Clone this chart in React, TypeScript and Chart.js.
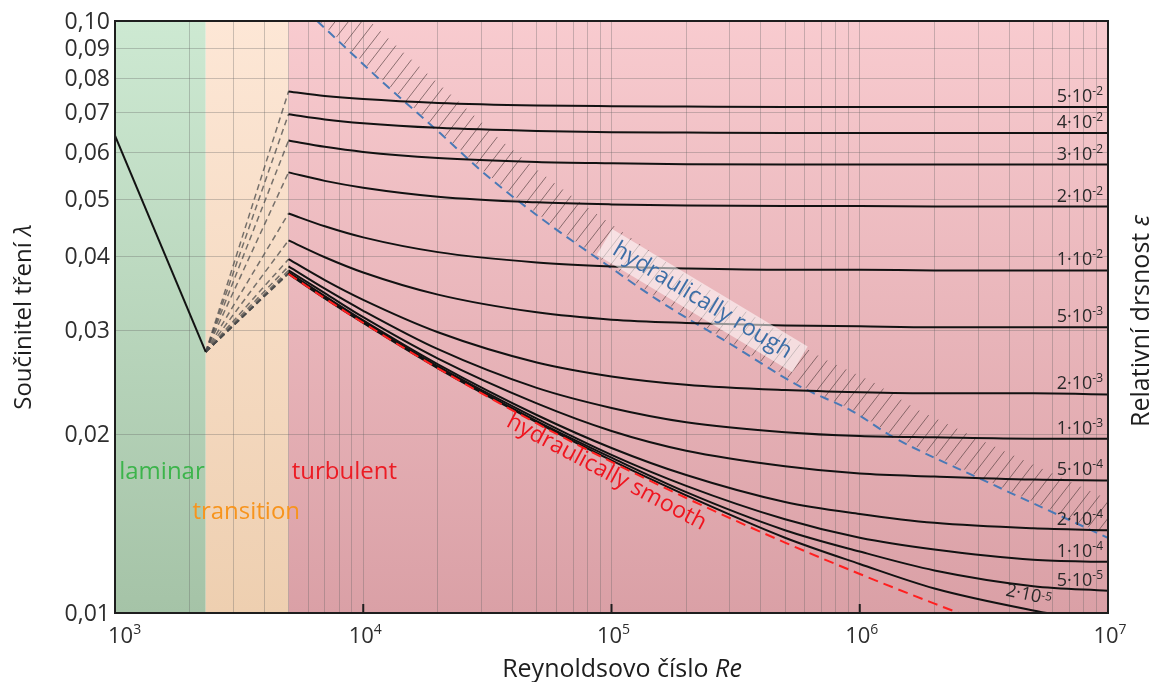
import React, { useEffect, useRef } from "react";
import { Chart, registerables } from "chart.js";

Chart.register(...registerables);

const FONT = '"Open Sans", "Noto Sans", "DejaVu Sans", sans-serif';

const RE_TURB = [5000, 7000, 10000, 20000, 50000, 100000, 200000, 500000, 1000000, 2000000, 5000000, 10000000];

// friction factor lambda for each relative roughness
const LAMBDA_5E_2 = [0.0760, 0.0747, 0.0738, 0.0727, 0.0720, 0.0718, 0.0717, 0.0716, 0.0716, 0.0716, 0.0716, 0.0716];
const LAMBDA_4E_2 = [0.0696, 0.0682, 0.0672, 0.0660, 0.0652, 0.0649, 0.0648, 0.0647, 0.0647, 0.0647, 0.0647, 0.0647];
const LAMBDA_3E_2 = [0.0628, 0.0613, 0.0601, 0.0587, 0.0578, 0.0575, 0.0573, 0.0572, 0.0572, 0.0572, 0.0572, 0.0572];
const LAMBDA_2E_2 = [0.0555, 0.0537, 0.0523, 0.0505, 0.0494, 0.0490, 0.0488, 0.0487, 0.0487, 0.0486, 0.0486, 0.0486];
const LAMBDA_1E_2 = [0.0473, 0.0450, 0.0431, 0.0407, 0.0391, 0.0385, 0.0382, 0.0380, 0.0380, 0.0379, 0.0379, 0.0379];
const LAMBDA_5E_3 = [0.0426, 0.0399, 0.0376, 0.0345, 0.0322, 0.0313, 0.0309, 0.0306, 0.0305, 0.0304, 0.0304, 0.0304];
const LAMBDA_2E_3 = [0.0396, 0.0365, 0.0338, 0.0298, 0.0265, 0.0251, 0.0243, 0.0238, 0.0236, 0.0235, 0.0235, 0.0234];
const LAMBDA_1E_3 = [0.0385, 0.0353, 0.0324, 0.0279, 0.0240, 0.0222, 0.0210, 0.0202, 0.0199, 0.0198, 0.0197, 0.0197];
const LAMBDA_5E_4 = [0.0379, 0.0347, 0.0316, 0.0269, 0.0226, 0.0203, 0.0188, 0.0177, 0.0172, 0.0170, 0.0168, 0.01675];
const LAMBDA_2E_4 = [0.0376, 0.0343, 0.0312, 0.0263, 0.0216, 0.0190, 0.0171, 0.0154, 0.0147, 0.0142, 0.0139, 0.0138];
const LAMBDA_1E_4 = [0.0375, 0.0341, 0.0310, 0.0261, 0.0213, 0.0185, 0.0164, 0.0144, 0.0134, 0.0128, 0.0123, 0.0122];
const LAMBDA_5E_5 = [0.0375, 0.0341, 0.0310, 0.0260, 0.0211, 0.0183, 0.0160, 0.0138, 0.0127, 0.0118, 0.0111, 0.0109];
const LAMBDA_2E_5 = [0.0374, 0.0340, 0.0309, 0.0259, 0.0210, 0.0181, 0.0158, 0.0134, 0.0121, 0.0110, 0.0101, 0.0096];

const ROUGHNESS_MANTISSA = ["5", "4", "3", "2", "1", "5", "2", "1", "5", "2", "1", "5", "2"];
const ROUGHNESS_EXPONENT = ["-2", "-2", "-2", "-2", "-2", "-3", "-3", "-3", "-4", "-4", "-4", "-5", "-5"];
const CURVE_VALUES = [
  LAMBDA_5E_2, LAMBDA_4E_2, LAMBDA_3E_2, LAMBDA_2E_2, LAMBDA_1E_2, LAMBDA_5E_3, LAMBDA_2E_3,
  LAMBDA_1E_3, LAMBDA_5E_4, LAMBDA_2E_4, LAMBDA_1E_4, LAMBDA_5E_5, LAMBDA_2E_5,
];

// hydraulically smooth pipe (red dashed)
const RE_SMOOTH = [5000, 7000, 10000, 20000, 50000, 100000, 200000, 500000, 1000000, 2000000, 3000000];
const LAMBDA_SMOOTH = [0.0374, 0.0340, 0.0309, 0.0259, 0.0209, 0.0180, 0.01564, 0.01315, 0.01164, 0.01037, 0.00972];

// laminar flow
const RE_LAMINAR = [1000, 2320];
const LAMBDA_LAMINAR = [0.064, 0.0276];

// boundary of the hydraulically rough region (blue dashed)
const RE_ROUGH = [6524, 11710, 20440, 29630, 40250, 58360, 90280, 153300, 300000, 578100, 919800, 1371000, 3162000, 10090000];
const LAMBDA_ROUGH = [0.1, 0.0795, 0.0646, 0.0560, 0.0504, 0.0448, 0.0394, 0.0338, 0.0285, 0.0241, 0.0220, 0.0198, 0.01675, 0.01337];

// flow regimes
const ZONE_BOUNDS = [1000, 2320, 5000, 10000000];
const ZONE_NAMES = ["laminar", "transition", "turbulent"];

// axes
const X_TICKS = [1000, 10000, 100000, 1000000, 10000000];
const X_TICK_EXP = ["3", "4", "5", "6", "7"];
const Y_TICKS = [0.01, 0.02, 0.03, 0.04, 0.05, 0.06, 0.07, 0.08, 0.09, 0.1];
const Y_TICK_LABELS = ["0,01", "0,02", "0,03", "0,04", "0,05", "0,06", "0,07", "0,08", "0,09", "0,10"];
const GRID_MULTIPLIERS = [1, 2, 3, 4, 5, 6, 7, 8, 9];

const X_GRID: number[] = [];
[1000, 10000, 100000, 1000000].forEach((d) => GRID_MULTIPLIERS.forEach((m) => X_GRID.push(d * m)));
X_GRID.push(10000000);

function font(size: number, italic = false) {
  return `${italic ? "italic " : ""}${size}px ${FONT}`;
}

function drawPow(
  ctx: CanvasRenderingContext2D, base: string, exp: string, x: number, y: number,
  baseSize: number, expSize: number, raise: number, align: "left" | "center" | "right"
) {
  ctx.font = font(baseSize);
  const bw = ctx.measureText(base).width;
  ctx.font = font(expSize);
  const ew = ctx.measureText(exp).width;
  const total = bw + ew;
  const x0 = align === "left" ? x : align === "center" ? x - total / 2 : x - total;
  ctx.textAlign = "left";
  ctx.textBaseline = "alphabetic";
  ctx.font = font(baseSize);
  ctx.fillText(base, x0, y);
  ctx.font = font(expSize);
  ctx.fillText(exp, x0 + bw, y - raise);
}

function drawMixed(ctx: CanvasRenderingContext2D, parts: [string, boolean][], cx: number, cy: number, size: number) {
  let total = 0;
  const widths = parts.map(([t, it]) => {
    ctx.font = font(size, it);
    const w = ctx.measureText(t).width;
    total += w;
    return w;
  });
  let x = cx - total / 2;
  ctx.textAlign = "left";
  parts.forEach(([t, it], i) => {
    ctx.font = font(size, it);
    ctx.fillText(t, x, cy);
    x += widths[i];
  });
}

const zonesPlugin = {
  id: "zones",
  beforeDraw(chart: any) {
    const { ctx, chartArea: a, scales } = chart;
    const xs = scales.x;
    const colors = [
      ["#cde9d2", "#a5c3a7"],
      ["#fde7d6", "#eecfb0"],
      ["#f8cbcf", "#daa0a6"],
    ];
    ctx.save();
    ctx.fillStyle = "#ffffff";
    ctx.fillRect(0, 0, chart.width, chart.height);
    for (let i = 0; i < 3; i++) {
      const x0 = xs.getPixelForValue(ZONE_BOUNDS[i]);
      const x1 = xs.getPixelForValue(ZONE_BOUNDS[i + 1]);
      const g = ctx.createLinearGradient(0, a.top, 0, a.bottom);
      g.addColorStop(0, colors[i][0]);
      g.addColorStop(1, colors[i][1]);
      ctx.fillStyle = g;
      ctx.fillRect(x0, a.top, x1 - x0, a.bottom - a.top);
    }
    ctx.restore();
  },
};

const hatchPlugin = {
  id: "hatch",
  beforeDatasetsDraw(chart: any) {
    const { ctx, chartArea: a } = chart;
    const idx = chart.data.datasets.findIndex((d: any) => d.label === "rough");
    const meta = chart.getDatasetMeta(idx);
    const pts = meta.data.map((p: any) => ({ x: p.x, y: p.y }));
    ctx.save();
    ctx.beginPath();
    ctx.rect(a.left, a.top, a.right - a.left, a.bottom - a.top);
    ctx.clip();
    ctx.strokeStyle = "rgba(75,55,55,0.62)";
    ctx.lineWidth = 1;
    const step = 10.5;
    const len = 36;
    const ang = (52 * Math.PI) / 180;
    let carry = 4;
    ctx.beginPath();
    for (let i = 0; i < pts.length - 1; i++) {
      const p = pts[i];
      const q = pts[i + 1];
      const dx = q.x - p.x;
      const dy = q.y - p.y;
      const sl = Math.hypot(dx, dy);
      let d = carry;
      for (; d < sl; d += step) {
        const t = d / sl;
        const px = p.x + dx * t;
        const py = p.y + dy * t;
        ctx.moveTo(px + 1, py - 1);
        ctx.lineTo(px + len * Math.cos(ang), py - len * Math.sin(ang));
      }
      carry = d - sl;
    }
    ctx.stroke();
    ctx.restore();
  },
};

const annotationsPlugin = {
  id: "annotations",
  afterDatasetsDraw(chart: any) {
    const { ctx, chartArea: a, scales } = chart;
    const xs = scales.x;
    const ys = scales.y;
    ctx.save();
    ctx.beginPath();
    ctx.rect(a.left, a.top, a.right - a.left, a.bottom - a.top);
    ctx.clip();

    // hydraulically rough label with translucent box
    const rx = xs.getPixelForValue(232000);
    const ry = ys.getPixelForValue(0.0337);
    ctx.save();
    ctx.translate(rx, ry);
    ctx.rotate((31 * Math.PI) / 180);
    ctx.fillStyle = "rgba(255,255,255,0.55)";
    ctx.fillRect(-114, -15, 228, 30);
    ctx.fillStyle = "#3d6ea6";
    ctx.font = font(23);
    ctx.textAlign = "center";
    ctx.textBaseline = "middle";
    ctx.fillText("hydraulically rough", 0, 0);
    ctx.restore();

    // hydraulically smooth label
    const sx = xs.getPixelForValue(95500);
    const sy = ys.getPixelForValue(0.01728);
    ctx.save();
    ctx.translate(sx, sy);
    ctx.rotate((28 * Math.PI) / 180);
    ctx.fillStyle = "#f0141e";
    ctx.font = font(23);
    ctx.textAlign = "center";
    ctx.textBaseline = "middle";
    ctx.fillText("hydraulically smooth", 0, 0);
    ctx.restore();

    // zone labels
    const zoneColors = ["#3cb44b", "#f7941d", "#ec1c24"];
    const zoneY = [0.0173, 0.0148, 0.0173];
    const zoneX = [1040, 2050, 5150];
    ctx.font = font(24);
    ctx.textAlign = "left";
    ctx.textBaseline = "middle";
    ZONE_NAMES.forEach((n, i) => {
      ctx.fillStyle = zoneColors[i];
      ctx.fillText(n, xs.getPixelForValue(zoneX[i]), ys.getPixelForValue(zoneY[i]));
    });

    // roughness labels
    ctx.fillStyle = "#2a2a2a";
    CURVE_VALUES.forEach((vals, i) => {
      const m = ROUGHNESS_MANTISSA[i] + "\u00b7" + "10";
      const e = ROUGHNESS_EXPONENT[i];
      if (i === CURVE_VALUES.length - 1) {
        const lx = xs.getPixelForValue(4800000);
        const ly = ys.getPixelForValue(0.01075);
        ctx.save();
        ctx.translate(lx, ly);
        ctx.rotate((12 * Math.PI) / 180);
        drawPow(ctx, m, e, 0, 6, 18, 12, 4, "center");
        ctx.restore();
        return;
      }
      const yv = ys.getPixelForValue(vals[vals.length - 1]);
      drawPow(ctx, m, e, a.right - 5, yv - 5, 18, 12, 7, "right");
    });
    ctx.restore();
  },
  afterDraw(chart: any) {
    const { ctx, chartArea: a, scales } = chart;
    const xs = scales.x;
    const ys = scales.y;
    ctx.save();
    // frame
    ctx.strokeStyle = "#1e1e1e";
    ctx.lineWidth = 2;
    ctx.strokeRect(a.left, a.top, a.right - a.left, a.bottom - a.top);
    // decade tick marks on the bottom axis
    ctx.beginPath();
    X_TICKS.slice(1, -1).forEach((v) => {
      const x = xs.getPixelForValue(v);
      ctx.moveTo(x, a.bottom);
      ctx.lineTo(x, a.bottom - 9);
    });
    ctx.stroke();

    // y tick labels
    ctx.fillStyle = "#2e2e2e";
    ctx.font = font(23);
    ctx.textAlign = "right";
    ctx.textBaseline = "middle";
    Y_TICKS.forEach((v, i) => {
      ctx.fillText(Y_TICK_LABELS[i], a.left - 5, ys.getPixelForValue(v) + 1);
    });

    // x tick labels
    X_TICKS.forEach((v, i) => {
      const x = xs.getPixelForValue(v);
      if (i === 0) drawPow(ctx, "10", X_TICK_EXP[i], x - 7, 643, 22, 14, 9, "left");
      else drawPow(ctx, "10", X_TICK_EXP[i], x + 2, 643, 22, 14, 9, "center");
    });

    // axis titles
    ctx.fillStyle = "#1e1e1e";
    ctx.textBaseline = "alphabetic";
    drawMixed(ctx, [["Reynoldsovo číslo ", false], ["Re", true]], 622, 677, 25);

    ctx.textBaseline = "middle";
    ctx.save();
    ctx.translate(24, 317);
    ctx.rotate(-Math.PI / 2);
    drawMixed(ctx, [["Součinitel tření ", false], ["λ", true]], 0, 0, 24);
    ctx.restore();

    ctx.save();
    ctx.translate(1142, 321);
    ctx.rotate(-Math.PI / 2);
    drawMixed(ctx, [["Relativní drsnost ", false], ["ε", true]], 0, 0, 25);
    ctx.restore();

    ctx.restore();
  },
};

function buildDatasets() {
  const ds: any[] = [];
  ds.push({
    label: "smooth",
    data: RE_SMOOTH.map((r, i) => ({ x: r, y: LAMBDA_SMOOTH[i] })),
    borderColor: "#ff1f1f",
    borderWidth: 2,
    borderDash: [10, 6],
    cubicInterpolationMode: "monotone",
    order: 0,
  });
  CURVE_VALUES.forEach((vals, i) => {
    ds.push({
      label: ROUGHNESS_MANTISSA[i] + "e" + ROUGHNESS_EXPONENT[i],
      data: RE_TURB.map((r, j) => ({ x: r, y: vals[j] })),
      borderColor: "#121212",
      borderWidth: 2,
      cubicInterpolationMode: "monotone",
      order: 1,
    });
  });
  ds.push({
    label: "laminar",
    data: RE_LAMINAR.map((r, i) => ({ x: r, y: LAMBDA_LAMINAR[i] })),
    borderColor: "#121212",
    borderWidth: 2,
    order: 1,
  });
  CURVE_VALUES.forEach((vals, i) => {
    ds.push({
      label: "transition" + i,
      data: [
        { x: RE_LAMINAR[1], y: LAMBDA_LAMINAR[1] },
        { x: RE_TURB[0], y: vals[0] },
      ],
      borderColor: "rgba(75,75,75,0.75)",
      borderWidth: 1.5,
      borderDash: [6, 4],
      order: 3,
    });
  });
  ds.push({
    label: "rough",
    data: RE_ROUGH.map((r, i) => ({ x: r, y: LAMBDA_ROUGH[i] })),
    borderColor: "#4a79b6",
    borderWidth: 2,
    borderDash: [9, 6],
    cubicInterpolationMode: "monotone",
    order: 2,
  });
  return ds;
}

export default function App() {
  const ref = useRef<HTMLCanvasElement>(null);
  useEffect(() => {
    if (!ref.current) return;
    const chart = new Chart(ref.current, {
      type: "line",
      data: { datasets: buildDatasets() },
      options: {
        animation: false,
        responsive: false,
        devicePixelRatio: 1,
        layout: { padding: { left: 115, right: 47, top: 21, bottom: 69 } },
        plugins: { legend: { display: false }, tooltip: { enabled: false } },
        elements: { point: { radius: 0, hoverRadius: 0 }, line: { fill: false } },
        scales: {
          x: {
            type: "logarithmic",
            min: 1000,
            max: 10000000,
            ticks: { display: false },
            grid: { color: "rgba(95,95,95,0.32)", lineWidth: 1, drawTicks: false },
            border: { display: false },
            afterBuildTicks: (s: any) => {
              s.ticks = X_GRID.map((v) => ({ value: v }));
            },
          },
          y: {
            type: "logarithmic",
            min: 0.01,
            max: 0.1,
            ticks: { display: false },
            grid: { color: "rgba(95,95,95,0.32)", lineWidth: 1, drawTicks: false },
            border: { display: false },
            afterBuildTicks: (s: any) => {
              s.ticks = Y_TICKS.map((v) => ({ value: v }));
            },
          },
        },
      } as any,
      plugins: [zonesPlugin, hatchPlugin, annotationsPlugin],
    });
    return () => chart.destroy();
  }, []);
  return (
    <div style={{ position: "fixed", left: 0, top: 0, width: 1155, height: 682, background: "#fff" }}>
      <canvas ref={ref} width={1155} height={682} style={{ display: "block", width: 1155, height: 682 }} />
    </div>
  );
}
